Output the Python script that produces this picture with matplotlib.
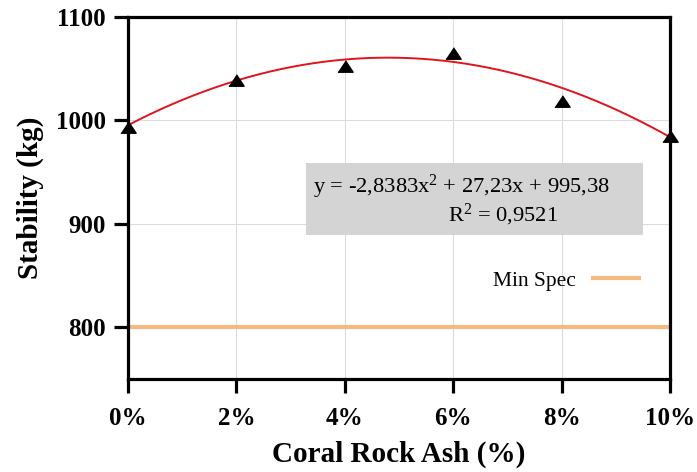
import numpy as np
import matplotlib
matplotlib.use("Agg")
import matplotlib.pyplot as plt
from matplotlib.patches import Rectangle

# data
ash_pct = [0, 2, 4, 6, 8, 10]
stability = [994, 1039, 1053, 1065, 1019, 985]
fit_coef = [-2.8383, 27.23, 995.38]   # trendline y = a x^2 + b x + c
fit_r2 = 0.9521
min_spec = 800

x_ticks = [0, 2, 4, 6, 8, 10]
x_labels = ["0%", "2%", "4%", "6%", "8%", "10%"]
y_ticks = [800, 900, 1000, 1100]

plt.rcParams['font.family'] = ['Liberation Serif', 'DejaVu Serif']
plt.rcParams['mathtext.fontset'] = 'custom'
plt.rcParams['mathtext.rm'] = 'Liberation Serif'
plt.rcParams['mathtext.it'] = 'Liberation Serif:italic'
plt.rcParams['mathtext.bf'] = 'Liberation Serif:bold'

fig = plt.figure(figsize=(6.97, 4.72), dpi=100)
ax = fig.add_axes([0.1836, 0.197, 0.9613 - 0.1836, 0.964 - 0.197])

ax.set_xlim(0, 10)
ax.set_ylim(750, 1100)

# grid
ax.grid(True, color="#dcdcdc", lw=0.8, zorder=0)
ax.set_axisbelow(True)

# min spec line
ax.axhline(min_spec, color="#f6b97f", lw=3, label="Min Spec", zorder=2)

# trendline from the equation in the box
xs = np.linspace(0, 10, 200)
ax.plot(xs, np.polyval(fit_coef, xs), color="#e0141c", lw=1.4, zorder=3)

# data points
tri = [(-1, -0.75), (1, -0.75), (0, 0.75)]
ax.plot(ash_pct, stability, linestyle="none", marker=tri, ms=11,
        color="black", zorder=4, clip_on=False)

# equation box
ax.add_patch(Rectangle((0.328, 0.398), 0.622, 0.199, transform=ax.transAxes,
                       facecolor="#d4d4d4", edgecolor="none", zorder=2.5))
a, b, c = fit_coef
eq = "y = " + f"{a:.4f}".replace(".", ",") + "x$^2$ + " + \
     f"{b:.2f}".replace(".", ",") + "x + " + f"{c:.2f}".replace(".", ",")
ax.text(0.341, 0.514, eq, transform=ax.transAxes, fontsize=16.2,
        ha="left", va="baseline", zorder=5)
ax.text(0.590, 0.436, "R$^2$ = " + f"{fit_r2:.4f}".replace(".", ","),
        transform=ax.transAxes, fontsize=16.2, ha="left", va="baseline", zorder=5)

# legend
ax.legend(loc="center", bbox_to_anchor=(0.808, 0.271), frameon=False,
          markerfirst=False, handlelength=2.15, prop={"size": 15.5})

# axes styling
for s in ax.spines.values():
    s.set_linewidth(2.3)
ax.set_xticks(x_ticks)
ax.set_xticklabels(x_labels)
ax.set_yticks(y_ticks)
ax.tick_params(axis="both", length=10, width=2.3, direction="out",
               labelsize=18, pad=6)
ax.tick_params(axis="x", pad=10)
for lab in ax.get_xticklabels() + ax.get_yticklabels():
    lab.set_fontweight("bold")

ax.set_xlabel("Coral Rock Ash (%)", fontsize=21, fontweight="bold")
ax.set_ylabel("Stability (kg)", fontsize=21, fontweight="bold")
ax.xaxis.set_label_coords(0.5, -0.17)
ax.yaxis.set_label_coords(-0.155, 0.5)

fig.savefig("out.png", dpi=100)
